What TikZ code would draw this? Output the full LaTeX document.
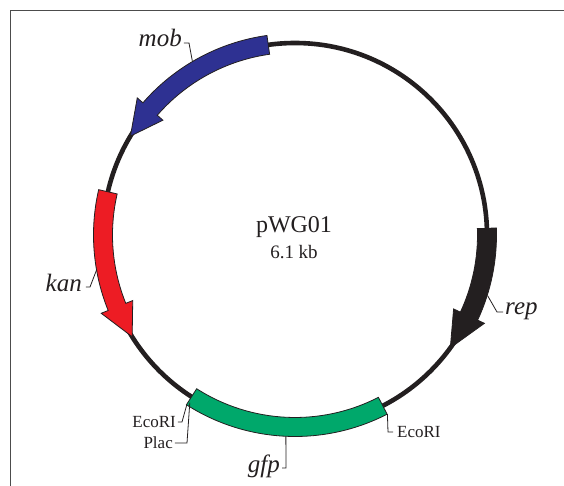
\documentclass[tikz,border=0pt]{standalone}
\usepackage{fontspec}
\setmainfont{Liberation Serif}
\usepackage{tikz}
\definecolor{mobblue}{RGB}{46,49,146}
\definecolor{kanred}{RGB}{237,28,36}
\definecolor{gfpgreen}{RGB}{0,168,107}
\definecolor{inkblack}{RGB}{35,31,32}
\newcommand{\gene}[4] % start angle, end angle, tip angle, colour
{
	\filldraw[fill=#4, genebox] (#1:201.5) arc[start angle=#1, end angle=#2, radius=201.5]
		-- (#2:209) -- (#3:192) -- (#2:175) -- (#2:182.5)
		arc[start angle=#2, end angle=#1, radius=182.5] -- cycle;
}
\newcommand{\band}[3] % start angle, end angle, colour
{
	\filldraw[fill=#3, genebox] (#1:201.5) arc[start angle=#1, end angle=#2, radius=201.5]
		-- (#2:182.5) arc[start angle=#2, end angle=#1, radius=182.5] -- cycle;
}
\tikzset{
	genebox/.style={draw=inkblack, line width=0.8pt, line join=miter},
	genelabel/.style={font=\fontsize{25}{25}\selectfont\itshape, inner sep=0pt, text=inkblack},
	sitelabel/.style={font=\fontsize{17}{17}\selectfont, inner sep=0pt, text=inkblack},
	leader/.style={draw=inkblack, line width=0.8pt}
}
\begin{document}
\begin{tikzpicture}[x=1pt, y=1pt]
	% plasmid centre at (0,0), 1 unit = 1 pixel
	\useasboundingbox (-295,-251) rectangle (269,235);
	% frame
	\draw[gray!60!black, line width=1pt] (-284,-251) -- (-284,224) -- (269,224);
	% backbone
	\draw[inkblack, line width=4.6pt] (0,0) circle (192);
	% genes
	\gene{98}{139}{149}{mobblue};
	\gene{167}{202}{212}{kanred};
	\gene{2}{-25}{-36}{inkblack};
	\band{237.4}{297.2}{gfpgreen};
	
	% name and size
	\node[font=\fontsize{24}{24}\selectfont, anchor=base, text=inkblack] (name) at (-1,2) {pWG01};
	\node[font=\fontsize{19}{19}\selectfont, anchor=base, text=inkblack] (size) at (-1,-24) {6.1 kb};
	
	% gene labels
	\node[genelabel, anchor=base east] (mob) at (-113,188) {mob};
	\node[genelabel, anchor=base east] (kan) at (-213,-57) {kan};
	\node[genelabel, anchor=base west] (rep) at (210,-80) {rep};
	\node[genelabel, anchor=base east] (gfp) at (-15,-237) {gfp};
	\coordinate (mobend) at (120.6:201.5);
	\coordinate (kanend) at (190:201.5);
	\coordinate (repend) at (-17.5:202);
	\coordinate (gfpend) at (267.4:201.5);
	\draw[leader] ([xshift=2pt, yshift=4pt]mob.base east) -- ++(5,0) -- (mobend);
	\draw[leader] ([xshift=4pt, yshift=5pt]kan.base east) -- ++(4,0) -- (kanend);
	\draw[leader] ([xshift=-2pt, yshift=3pt]rep.base west) -- ++(-6,0) -- (repend);
	\draw[leader] ([xshift=2pt, yshift=4pt]gfp.base east) -- ++(4,0) -- (gfpend);
	
	% sites
	\node[sitelabel, anchor=base east] (ecoleft) at (-119,-192) {EcoRI};
	\node[sitelabel, anchor=base east] (plac) at (-122,-213) {Plac};
	\node[sitelabel, anchor=base west] (ecoright) at (102,-202) {EcoRI};
	\coordinate (ecoleftend) at (237.5:201.5);
	\coordinate (placend) at (237.9:198);
	\coordinate (ecorightend) at (297.3:201.5);
	\draw[leader] ([xshift=2pt, yshift=5pt]ecoleft.base east) -- ++(4,0) -- (ecoleftend);
	\draw[leader] ([xshift=2pt, yshift=5pt]plac.base east) -- ++(12,0) -- (placend);
	\draw[leader] ([xshift=-4pt, yshift=5pt]ecoright.base west) -- ++(-5,0) -- (ecorightend);
\end{tikzpicture}
\end{document}
